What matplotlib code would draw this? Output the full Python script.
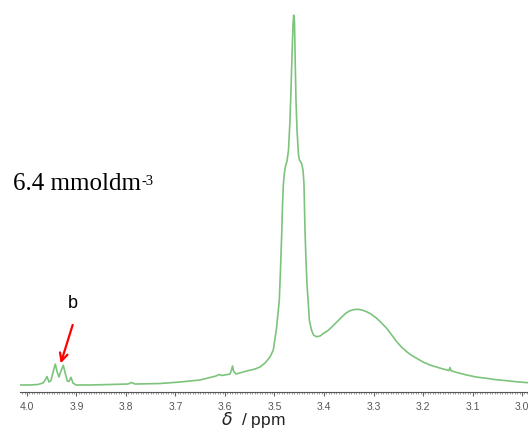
import numpy as np
import matplotlib
matplotlib.use("Agg")
import matplotlib.pyplot as plt
from matplotlib.ticker import MultipleLocator

# spectrum: chemical shift (ppm) and intensity (peak top = 100)
ppm = [4.0141, 3.9939, 3.9778, 3.9677, 3.9636, 3.9596, 3.9556, 3.9515, 3.9465,
       3.9428, 3.9390, 3.9354, 3.9313, 3.9267, 3.9228, 3.9186, 3.9152, 3.9111,
       3.9071, 3.9010, 3.8727, 3.8323, 3.7960, 3.7889, 3.7818, 3.7313, 3.6909,
       3.6505, 3.6182, 3.6121, 3.6061, 3.5899, 3.5869, 3.5848, 3.5828, 3.5778,
       3.5562, 3.5394, 3.5293, 3.5192, 3.5091, 3.5024, 3.4956, 3.4903, 3.4879,
       3.4855, 3.4838, 3.4822, 3.4798, 3.4778, 3.4747, 3.4717, 3.4687, 3.4667,
       3.4646, 3.4626, 3.4612, 3.4596, 3.4582, 3.4566, 3.4545, 3.4515, 3.4495,
       3.4455, 3.4424, 3.4404, 3.4384, 3.4364, 3.4343, 3.4317, 3.4297, 3.4253,
       3.4212, 3.4152, 3.4081, 3.4014, 3.3919, 3.3812, 3.3642, 3.3556, 3.3475,
       3.3394, 3.3307, 3.3232, 3.3137, 3.3051, 3.2935, 3.2848, 3.2733, 3.2646,
       3.2531, 3.2444, 3.2329, 3.2242, 3.2127, 3.2000, 3.1859, 3.1697, 3.1521,
       3.1475, 3.1455, 3.1434, 3.1333, 3.1117, 3.0929, 3.0713, 3.0525, 3.0309,
       3.0121, 2.9879]
intensity = [1.86, 1.86, 1.99, 2.39, 3.10, 4.10, 2.65, 3.05, 5.70,
             7.40, 5.31, 3.98, 5.57, 7.10, 5.04, 2.92, 2.79, 3.90,
             2.39, 1.86, 1.86, 1.99, 2.12, 2.52, 2.12, 2.25, 2.65,
             3.18, 4.24, 4.64, 4.38, 4.77, 5.84, 6.90, 5.57, 4.77,
             5.57, 6.10, 6.63, 7.69, 9.28, 11.14, 17.24, 24.40, 32.36,
             41.64, 49.60, 54.91, 58.36, 59.95, 61.27, 64.19, 72.15, 80.11,
             89.39, 97.35, 100.0, 98.14, 88.06, 77.45, 69.50, 62.86, 61.54,
             60.74, 58.89, 55.17, 42.97, 35.01, 28.38, 23.61, 19.10, 16.45,
             15.12, 14.67, 14.85, 15.52, 16.31, 17.64, 19.89, 20.95, 21.56,
             21.88, 21.94, 21.75, 21.30, 20.69, 19.55, 18.44, 16.90, 15.38,
             13.34, 12.07, 10.69, 9.81, 8.94, 7.96, 7.16, 6.50, 5.84,
             5.70, 6.50, 5.65, 5.23, 4.51, 3.98, 3.63, 3.26, 3.00,
             2.73, 2.47]

tick_vals = [4.0, 3.9, 3.8, 3.7, 3.6, 3.5, 3.4, 3.3, 3.2, 3.1, 3.0]
conc_label = "6.4 mmoldm"
conc_power = "-3"
peak_label = "b"
peak_b = (3.9319, 7.6)
arrow_tail = (3.9077, 17.8)

fig = plt.figure(figsize=(5.28, 4.33), dpi=100)
ax = fig.add_axes([20 / 528, 41 / 433, 1 - 20 / 528, 387 / 433])

ax.plot(ppm, intensity, color="#7cc47c", lw=1.2)
ax.set_xlim(4.0141, 2.9879)
ax.set_ylim(0, 102.7)

for s in ["top", "left", "right"]:
    ax.spines[s].set_visible(False)
ax.spines["bottom"].set_color("#555555")
ax.spines["bottom"].set_linewidth(0.8)
ax.set_yticks([])
ax.set_xticks(tick_vals)
ax.set_xticklabels(["%.1f" % v for v in tick_vals], family="Liberation Sans",
                   fontsize=7.5, color="#555555")
ax.xaxis.set_minor_locator(MultipleLocator(0.005))
ax.tick_params(axis="x", which="major", length=3, width=0.8, color="#666666", pad=4)
ax.tick_params(axis="x", which="minor", length=1.5, width=0.6, color="#888888")

ax.set_xlabel(r"$\delta$  / ppm", family="Liberation Sans", fontsize=12.5,
              color="#222222")
ax.xaxis.set_label_coords((253 - 20) / 508, -0.047)

t = fig.text(13 / 528, (433 - 190) / 433, conc_label, family="Liberation Serif",
             fontsize=18, va="baseline", ha="left")
ax.annotate(conc_power, xy=(1, 1), xycoords=t, xytext=(0.5, -1.5),
            textcoords="offset points", family="Liberation Serif",
            fontsize=10.5, va="top", ha="left")

ax.annotate("", xy=peak_b, xytext=arrow_tail,
            arrowprops=dict(arrowstyle="->", color="red", lw=1.6,
                            mutation_scale=14, shrinkA=0, shrinkB=0))
ax.text(arrow_tail[0], 23.5, peak_label, ha="center", va="center",
        fontsize=13, family="Liberation Sans")

fig.savefig("out.png", dpi=100)
